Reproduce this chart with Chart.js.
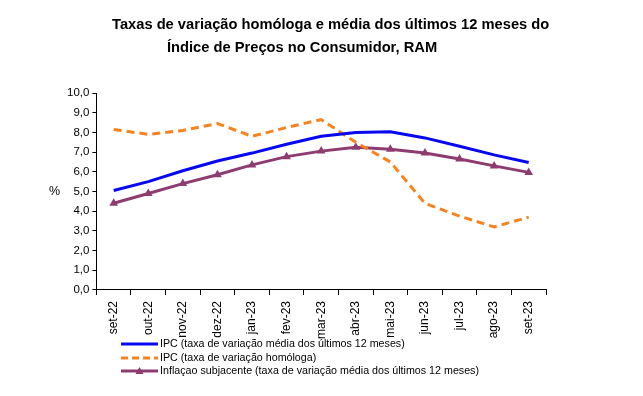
<!DOCTYPE html>
<html>
<head>
<meta charset="utf-8">
<script src="https://cdn.jsdelivr.net/npm/chart.js@4.4.0/dist/chart.umd.min.js"></script>
<style>
  body { margin: 0; background: #fff; font-family: "Liberation Sans", Arial, sans-serif; }
  #wrap { position: relative; width: 643px; height: 396px; }
  #chart-canvas { position: absolute; left: 0; top: 0; }
  .title { position: absolute; font-weight: bold; font-size: 14.7px; color: #000; white-space: nowrap; }
  #pct { position: absolute; left: 49px; top: 184px; font-size: 12.5px; }
  #legend { position: absolute; left: 121px; top: 337px; font-size: 10.7px; color: #000; }
  #legend div { height: 13.5px; line-height: 13.5px; white-space: nowrap; }
  #legend svg { vertical-align: middle; margin-right: 1px; }
</style>
</head>
<body>
<div id="wrap">
  <canvas id="chart-canvas" width="643" height="396"></canvas>
  <div class="title" style="left:112px; top:16px;">Taxas de variação homóloga e média dos últimos 12 meses do</div>
  <div class="title" style="left:167px; top:39px;">Índice de Preços no Consumidor, RAM</div>
  <div id="pct">%</div>
  <div id="legend"></div>
</div>
<script>
const months = ["set-22", "out-22", "nov-22", "dez-22", "jan-23", "fev-23", "mar-23", "abr-23", "mai-23", "jun-23", "jul-23", "ago-23", "set-23"];
const ipcMedia = [5.05, 5.5, 6.05, 6.55, 6.95, 7.4, 7.8, 8.0, 8.03, 7.72, 7.3, 6.86, 6.47];
const ipcHomologa = [8.15, 7.9, 8.1, 8.45, 7.8, 8.25, 8.65, 7.5, 6.5, 4.4, 3.75, 3.2, 3.7];
const subjacente = [4.4, 4.9, 5.4, 5.85, 6.35, 6.77, 7.05, 7.25, 7.15, 6.95, 6.65, 6.3, 5.97];
const seriesNames = [
  "IPC (taxa de variação média dos últimos 12 meses)",
  "IPC (taxa de variação homóloga)",
  "Inflaçao subjacente (taxa de variação média dos últimos 12 meses)"
];

const blue = "#0808f0";
const orange = "#f7831f";
const purple = "#8e3b6f";

// legend in html
const legend = document.getElementById("legend");
const legendLines = [
  '<line x1="0" y1="5" x2="37" y2="5" stroke="' + blue + '" stroke-width="3"/>',
  '<line x1="0" y1="5" x2="37" y2="5" stroke="' + orange + '" stroke-width="3" stroke-dasharray="7,4"/>',
  '<line x1="0" y1="5" x2="37" y2="5" stroke="' + purple + '" stroke-width="3"/><polygon points="18.5,1 22.5,8 14.5,8" fill="' + purple + '"/>'
];
seriesNames.forEach((name, i) => {
  const row = document.createElement("div");
  row.innerHTML = '<svg width="38" height="10">' + legendLines[i] + '</svg>' + name;
  legend.appendChild(row);
});

const context = document.getElementById("chart-canvas").getContext("2d");
new Chart(context, {
  type: "line",
  data: {
    labels: months,
    datasets: [
      { label: seriesNames[0], data: ipcMedia, borderColor: blue, borderWidth: 3, pointRadius: 0, tension: 0 },
      { label: seriesNames[1], data: ipcHomologa, borderColor: orange, borderWidth: 3, borderDash: [8, 5], pointRadius: 0, tension: 0 },
      { label: seriesNames[2], data: subjacente, borderColor: purple, backgroundColor: purple, borderWidth: 3,
        pointStyle: "triangle", pointRadius: 5, pointBorderWidth: 0, tension: 0 }
    ]
  },
  options: {
    responsive: false,
    animation: false,
    layout: { padding: { left: 64, right: 97, top: 93, bottom: 51 } },
    plugins: { legend: { display: false }, title: { display: false }, tooltip: { enabled: false } },
    scales: {
      x: {
        offset: true,
        border: { color: "#000", width: 1 },
        grid: { offset: true, drawOnChartArea: false, color: "#000", tickLength: 5 },
        ticks: { color: "#000", font: { family: "Liberation Sans", size: 12 }, maxRotation: 90, minRotation: 90, padding: 6 }
      },
      y: {
        min: 0, max: 10,
        border: { color: "#000", width: 1 },
        grid: { drawOnChartArea: false, color: "#000", tickLength: 4 },
        ticks: { stepSize: 1, color: "#000", font: { family: "Liberation Sans", size: 11.5 }, padding: 3,
          callback: v => v.toFixed(1).replace(".", ",") }
      }
    }
  }
});
</script>
</body>
</html>
